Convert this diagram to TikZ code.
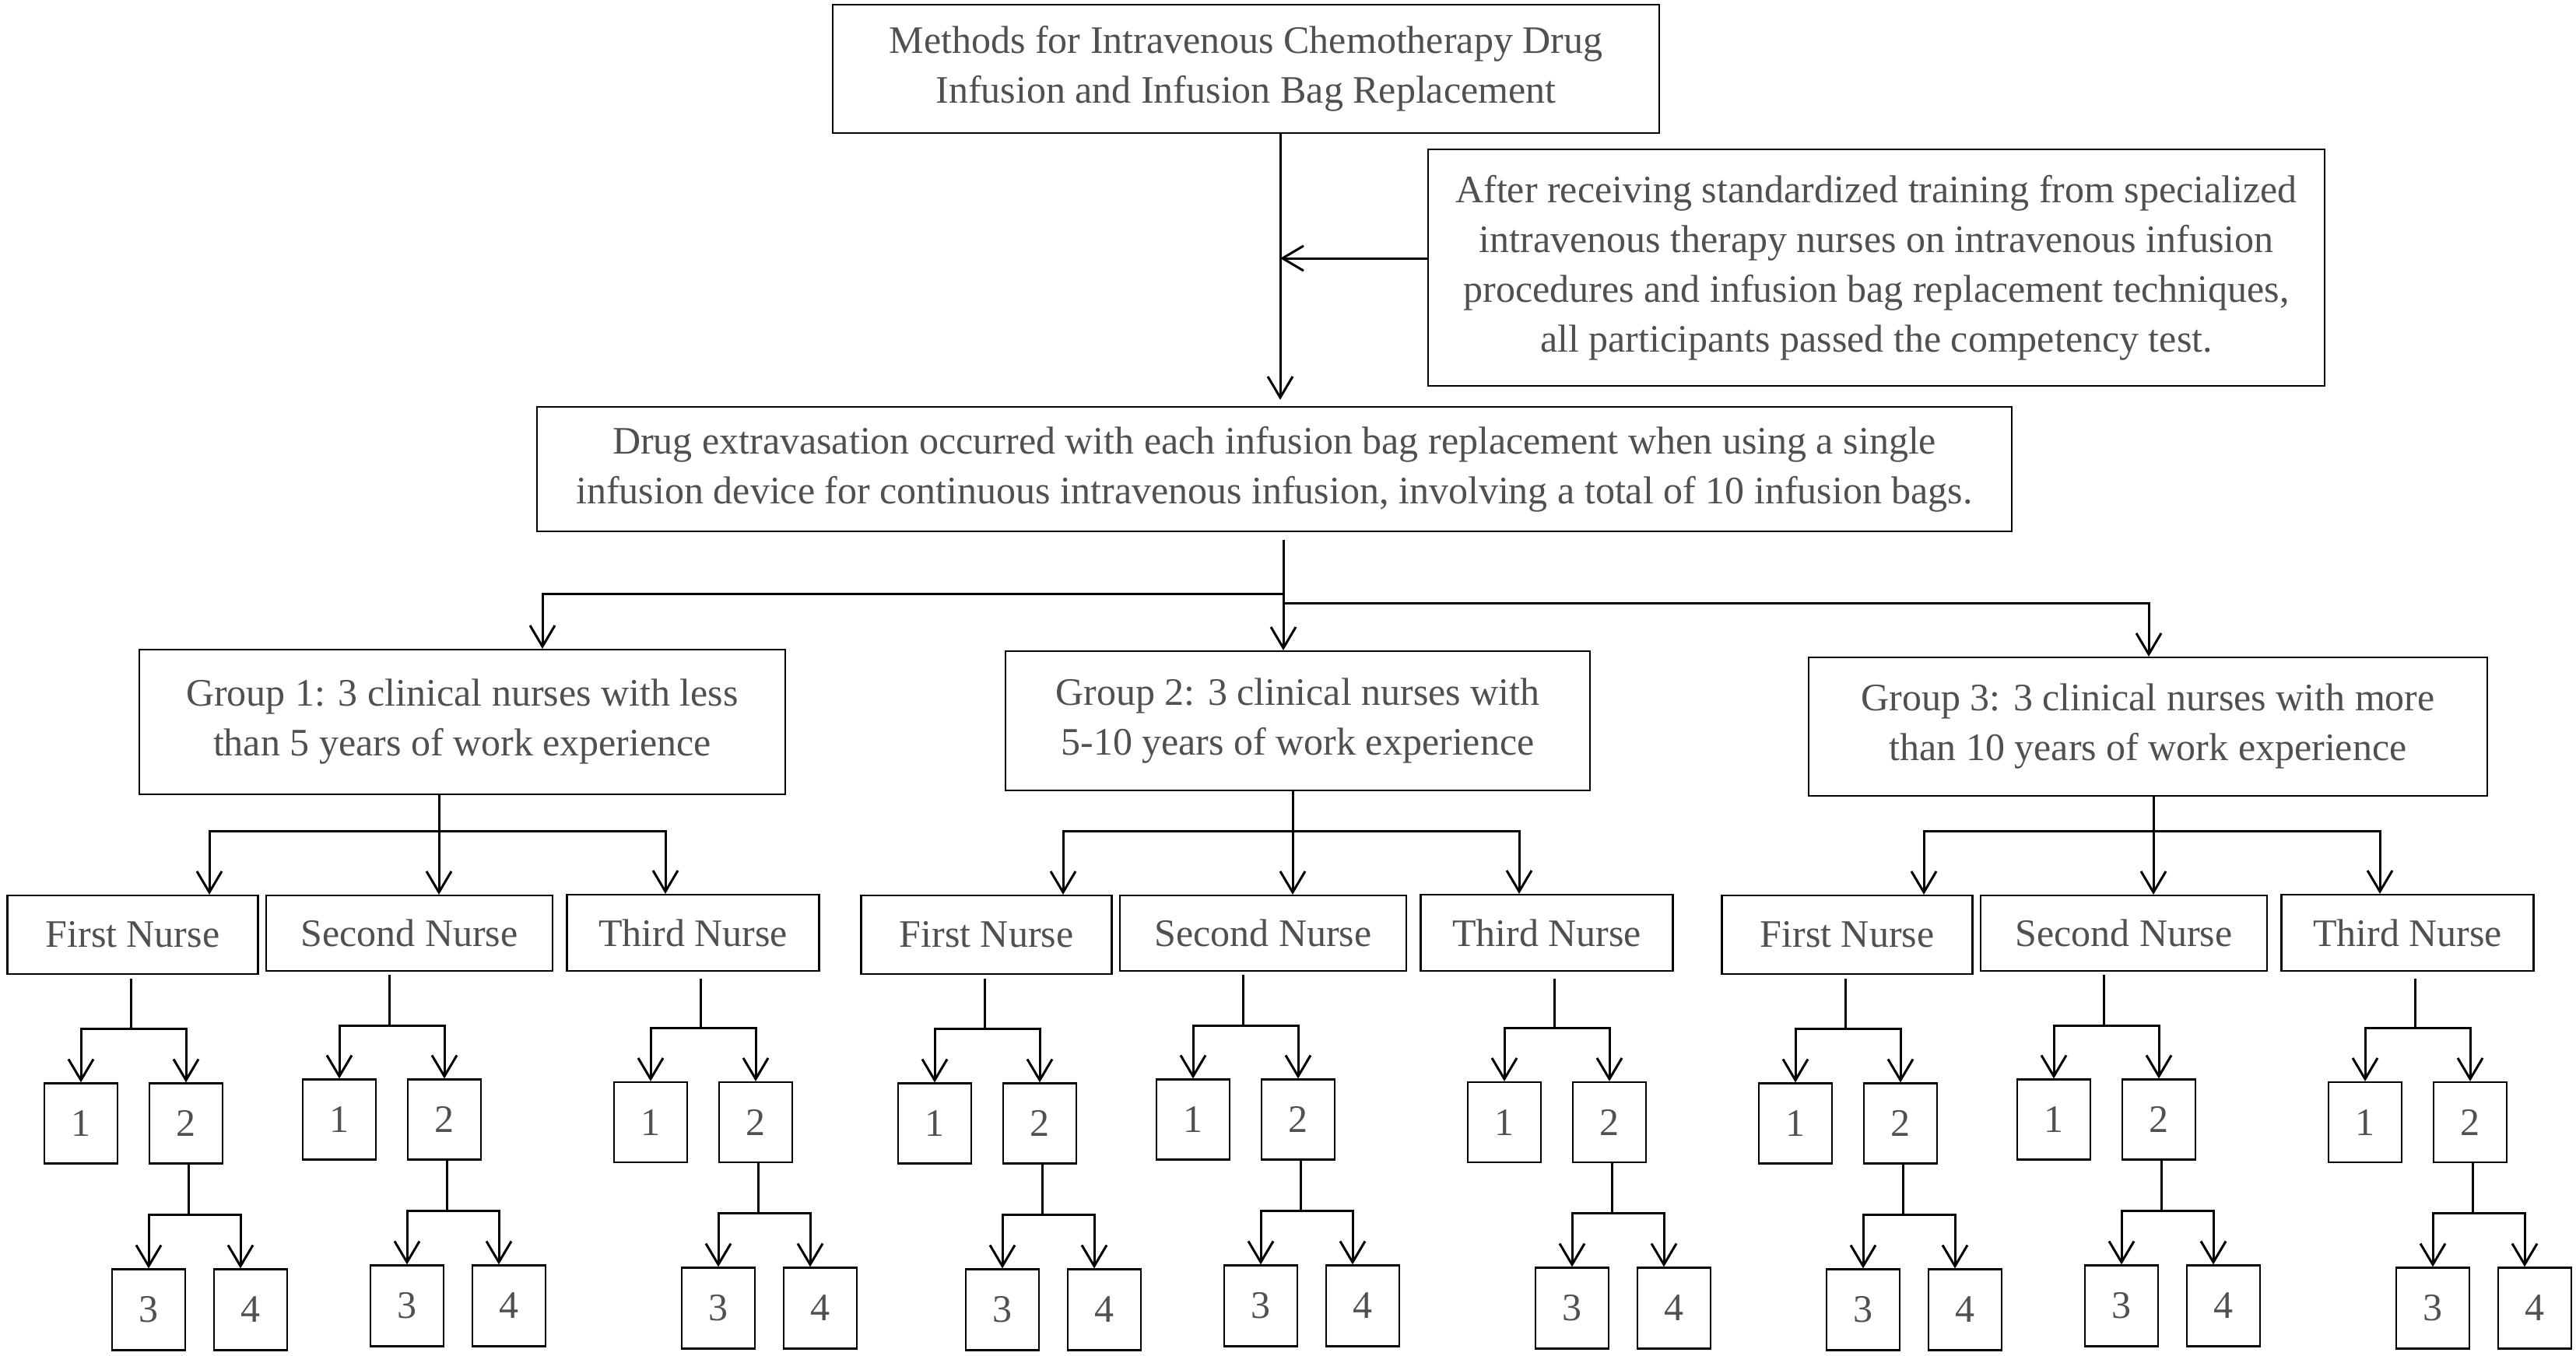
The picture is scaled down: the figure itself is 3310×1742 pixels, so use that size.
\documentclass[tikz,border=0pt]{standalone}
\usepackage{fontspec}
\setmainfont{Liberation Serif}
\usetikzlibrary{arrows.meta}
\definecolor{txtgray}{RGB}{80,80,80}
\begin{document}
\begin{tikzpicture}[x=1pt,y=-1pt,
  box/.style={draw=black,line width=2.2pt,inner sep=0pt,align=center,text=txtgray,font=\fontsize{50}{64}\selectfont},
  conn/.style={line width=3pt,-{Straight Barb[length=27pt,width=32pt]}},
  plain/.style={line width=3pt}]
\useasboundingbox[fill=white] (0,0) rectangle (3310,1742);

\node[box,minimum width=1062pt,minimum height=165pt] (title) at (1601,88.5)
  {Methods for Intravenous Chemotherapy Drug\\Infusion and Infusion Bag Replacement};
\node[box,minimum width=1152pt,minimum height=304pt] (train) at (2411,344)
  {After receiving standardized training from specialized\\intravenous therapy nurses on intravenous infusion\\procedures and infusion bag replacement techniques,\\all participants passed the competency test.};
\node[box,minimum width=1895pt,minimum height=160pt] (drug) at (1637.5,603)
  {Drug extravasation occurred with each infusion bag replacement when using a single\\infusion device for continuous intravenous infusion, involving a total of 10 infusion bags.};
\node[box,minimum width=830pt,minimum height=186pt] (g1) at (594,928)
  {Group 1: 3 clinical nurses with less\\than 5 years of work experience};
\node[box,minimum width=751pt,minimum height=179pt] (g2) at (1667.5,926.5)
  {Group 2: 3 clinical nurses with\\5-10 years of work experience};
\node[box,minimum width=872pt,minimum height=178pt] (g3) at (2760,934)
  {Group 3: 3 clinical nurses with more\\than 10 years of work experience};

\coordinate (ja) at (1645,332);
\draw[conn,shorten >=8pt] (title.south -| ja) -- (drug.north -| ja);
\draw[conn] (train.west |- ja) -- (ja);

\coordinate (jb) at (1649,763);
\coordinate (jc) at (1649,775);
\draw[conn,shorten <=10pt] (drug.south -| jb) -- (g2.north -| jb);
\draw[conn] (jb) -| ([xshift=103pt]g1.north);
\draw[conn] (jc) -| ([xshift=1pt]g3.north);

\foreach \g/\gx in {1/564,2/1661,3/2767}{
  \begin{scope}[xshift=\gx pt]
    \coordinate (h\g) at (0,1068);
    \draw[plain] (g\g.south -| h\g) -- (h\g);
    \foreach \n/\nc/\nw/\nh/\ncy/\s/\ax/\lab/\gap/\ha/\ca/\hb/\cb in {
      1/-393.5/322/101/1201.5/-396/-295/First Nurse/5/1322/1444/1561/1683.5,
      2/-38/368/97/1199.5/-64/0/Second Nurse/4/1318/1439/1556/1678.5,
      3/326.5/324/98/1199/336/291/Third Nurse/9/1321/1442.5/1559.5/1681.5}{
      \node[box,minimum width=\nw pt,minimum height=\nh pt] (n\g\n) at (\nc,\ncy) {\lab};
      \coordinate (a\g\n) at (\ax,0);
      \draw[conn] (h\g) -| (n\g\n.north -| a\g\n);
      \coordinate (s\g\n) at (\s,\ha);
      \draw[plain,shorten <=\gap pt] (n\g\n.south -| s\g\n) -- (s\g\n);
      \node[box,minimum width=94pt,minimum height=103pt] (la\g\n) at (\s-64,\ca) {1};
      \node[box,minimum width=94pt,minimum height=103pt] (lb\g\n) at (\s+71,\ca) {2};
      \node[box,minimum width=94pt,minimum height=104pt] (lc\g\n) at (\s+23,\cb) {3};
      \node[box,minimum width=94pt,minimum height=104pt] (ld\g\n) at (\s+154,\cb) {4};
      \draw[conn] (s\g\n) -| (la\g\n.north);
      \draw[conn] (s\g\n) -| (lb\g\n.north);
      \coordinate (t\g\n) at (\s+74,\hb);
      \coordinate (u\g\n) at (\s+141,0);
      \draw[plain] (lb\g\n.south -| t\g\n) -- (t\g\n);
      \draw[conn] (t\g\n) -| (lc\g\n.north);
      \draw[conn] (t\g\n) -| (ld\g\n.north -| u\g\n);
    }
  \end{scope}
}
\end{tikzpicture}
\end{document}
